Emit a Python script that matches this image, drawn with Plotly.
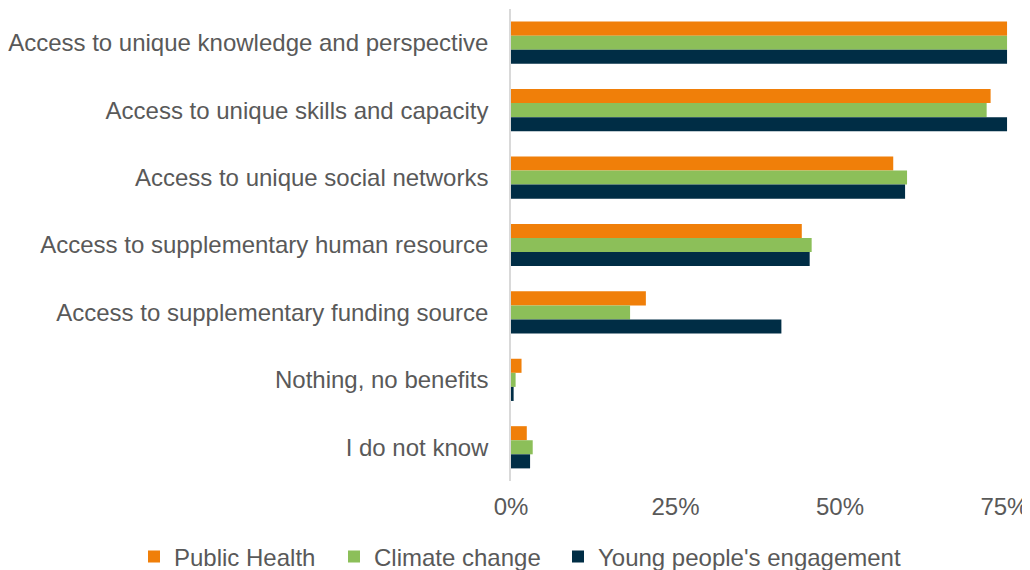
import plotly.graph_objects as go

categories = [
    "Access to unique knowledge and perspective",
    "Access to unique skills and capacity",
    "Access to unique social networks",
    "Access to supplementary human resource",
    "Access to supplementary funding source",
    "Nothing, no benefits",
    "I do not know",
]
public_health = [0.754, 0.729, 0.581, 0.442, 0.205, 0.016, 0.024]
climate_change = [0.754, 0.723, 0.602, 0.457, 0.181, 0.007, 0.033]
young_people = [0.754, 0.754, 0.599, 0.454, 0.411, 0.004, 0.029]
tick_vals = [0, 0.25, 0.5, 0.75]
tick_text = ["0%", "25%", "50%", "75%"]

series = [
    ("Public Health", public_health, "#F07F09", 155),
    ("Climate change", climate_change, "#8CBF59", 179),
    ("Young people's engagement", young_people, "#002D45", 310),
]

fig = go.Figure()
for name, vals, color, lw in series:
    fig.add_trace(go.Bar(
        y=categories, x=vals, name=name, orientation="h",
        marker=dict(color=color, line=dict(width=0)),
        legendwidth=lw,
        hoverinfo="x+name",
    ))

font_family = "Liberation Sans, Arial, sans-serif"
fig.update_layout(
    width=1022, height=562,
    margin=dict(l=503, r=19, t=1, b=89, autoexpand=False),
    barmode="group", bargap=0.374, bargroupgap=0,
    plot_bgcolor="white", paper_bgcolor="white",
    font=dict(family=font_family, size=24, color="#595959"),
    xaxis=dict(range=[0, 0.76], tickvals=tick_vals, ticktext=tick_text,
               showgrid=False, zeroline=False, showline=False, ticks="",
               automargin=False, ticklabelstandoff=9,
               tickfont=dict(size=24, color="#595959")),
    yaxis=dict(autorange="reversed", showgrid=False, zeroline=False,
               showline=True, linecolor="#D9D9D9", linewidth=1.5, ticks="",
               ticklabelstandoff=16, automargin=False,
               tickfont=dict(size=24, color="#595959")),
    legend=dict(orientation="h", x=-0.754, xanchor="left",
                y=-0.161, yanchor="middle",
                font=dict(size=24, color="#595959"), traceorder="normal"),
    showlegend=True,
)
fig.write_html("out.html")
